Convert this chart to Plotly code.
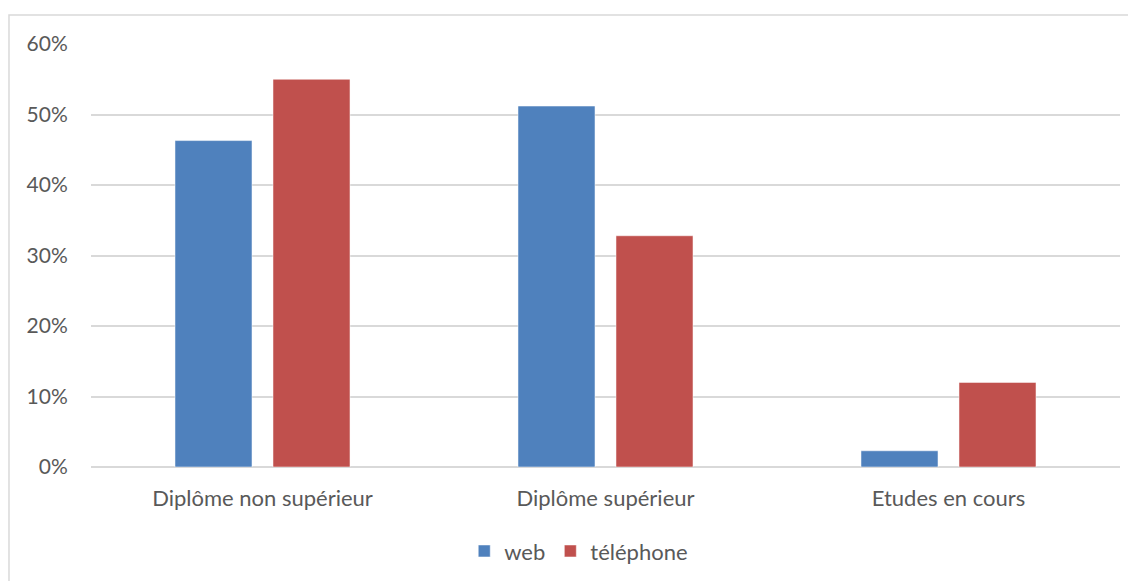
import plotly.graph_objects as go

categories = ["Diplôme non supérieur", "Diplôme supérieur", "Etudes en cours"]
web = [0.463, 0.512, 0.023]
telephone = [0.550, 0.328, 0.120]
series_names = ["web", "téléphone"]
tick_vals = [0, 0.1, 0.2, 0.3, 0.4, 0.5, 0.6]
tick_text = ["0%", "10%", "20%", "30%", "40%", "50%", "60%"]

FONT = "Lato, 'Open Sans', sans-serif"
TXT = "#595959"

fig = go.Figure()
fig.add_trace(go.Bar(x=categories, y=web, name=series_names[0],
                     marker=dict(color="#4F81BD", line=dict(color="rgba(255,255,255,0.5)", width=1))))
fig.add_trace(go.Bar(x=categories, y=telephone, name=series_names[1],
                     marker=dict(color="#C0504D", line=dict(color="rgba(255,255,255,0.5)", width=1))))

fig.update_layout(
    width=1128, height=573,
    margin=dict(l=83, r=16, t=36, b=114, autoexpand=False),
    paper_bgcolor="white", plot_bgcolor="white",
    barmode="group", bargap=0.4286, bargroupgap=0.214,
    font=dict(family=FONT, color=TXT, size=22),
    showlegend=True,
    legend=dict(orientation="h", x=0.474, xanchor="center", y=-0.199, yanchor="middle",
                font=dict(size=22, color=TXT), itemwidth=30, traceorder="normal"),
    xaxis=dict(showgrid=False, showline=False, ticks="outside", ticklen=12,
               tickcolor="rgba(0,0,0,0)", tickfont=dict(size=22, color=TXT)),
    yaxis=dict(range=[0, 0.6], tickvals=tick_vals, ticktext=tick_text,
               showgrid=True, gridcolor="#D9D9D9", gridwidth=1.5,
               zeroline=True, zerolinecolor="#D9D9D9", zerolinewidth=1.5,
               showline=False, ticks="outside", ticklen=18, tickcolor="rgba(0,0,0,0)",
               tickfont=dict(size=21, color=TXT)),
    shapes=[dict(type="rect", xref="paper", yref="paper", x0=-0.0797, x1=1.2,
                 y0=-0.5, y1=1.0686, line=dict(color="#D9D9D9", width=1.5),
                 fillcolor="rgba(0,0,0,0)", layer="below")],
)

fig.write_html("out.html")
